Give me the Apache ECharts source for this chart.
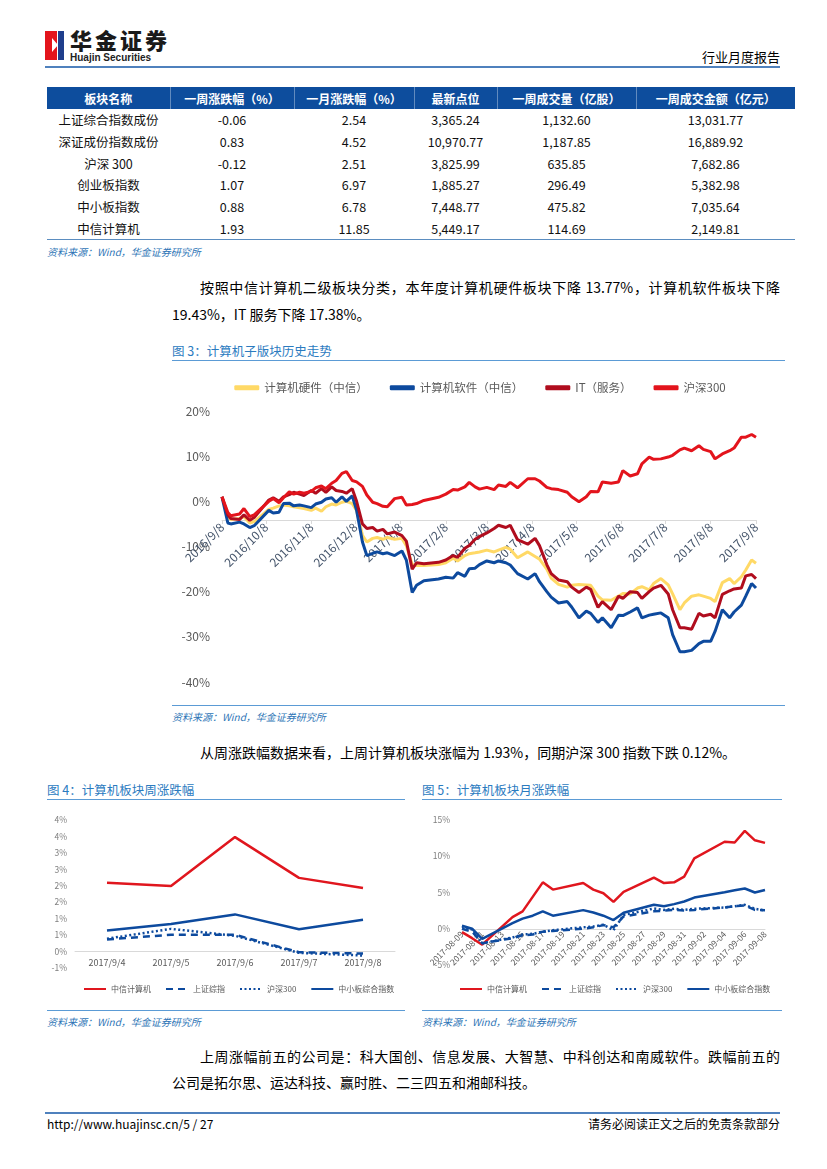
<!DOCTYPE html>
<html>
<head>
<meta charset="utf-8">
<script src="https://cdn.jsdelivr.net/npm/echarts@6.0.0/dist/echarts.min.js"></script>
<style>
  html,body{margin:0;padding:0;background:#fff;}
  body{width:827px;height:1169px;position:relative;overflow:hidden;font-family:"Noto Sans CJK SC","Noto Sans",sans-serif;color:#000;}
  .abs{position:absolute;white-space:nowrap;}
  .rule{position:absolute;height:1px;background:#5B9BD5;}
  .src{position:absolute;font-size:10px;font-style:italic;color:#2E75B6;white-space:nowrap;line-height:12px;}
  .ftitle{position:absolute;font-size:12.5px;color:#2B7BBF;white-space:nowrap;line-height:16px;}
  .para{position:absolute;font-size:14px;line-height:18px;white-space:nowrap;}
  table{border-collapse:collapse;table-layout:fixed;}
  td,th{padding:0;text-align:center;white-space:nowrap;}
  th{background:#0D4D9D;color:#fff;font-size:12px;font-weight:bold;height:22px;border-left:1px solid rgba(255,255,255,0.35);}
  th:first-child{border-left:none;}
  td{font-size:12.5px;height:21.8px;line-height:21.8px;color:#111;}
</style>
</head>
<body>
<!-- header -->
<div class="abs" style="left:45px;top:31px;width:13px;height:29px;background:#E3141C;"></div>
<div class="abs" style="left:58px;top:31px;width:6px;height:29px;background:#1F3E8C;"></div>
<div class="abs" style="left:52px;top:38px;width:0;height:0;border-top:7px solid transparent;border-bottom:7px solid transparent;border-left:6px solid #fff;"></div>
<div class="abs" style="left:57px;top:31px;width:1px;height:29px;background:#fff;"></div>
<div class="abs" style="left:70px;top:26px;font-size:22px;font-weight:900;letter-spacing:3px;color:#1a1a1a;line-height:26px;">华金证券</div>
<div class="abs" style="left:70px;top:52px;font-size:10px;font-weight:bold;color:#222;font-family:'Liberation Sans',sans-serif;line-height:11px;">Huajin Securities</div>
<div class="abs" style="right:47px;top:48px;font-size:13px;line-height:18px;">行业月度报告</div>
<div class="abs" style="left:45px;top:66px;width:735px;height:2px;background:#4F81BD;"></div>

<!-- table -->
<div id="tbl" class="abs" style="left:47px;top:87px;"></div>
<div class="abs" style="left:47px;top:239px;width:748px;height:1px;background:#5B8DC0;"></div>
<div class="src" style="left:47px;top:246px;">资料来源：Wind，华金证券研究所</div>

<div class="para" style="left:200px;top:278px;width:580px;text-align:justify;text-align-last:justify;">按照中信计算机二级板块分类，本年度计算机硬件板块下降 13.77%，计算机软件板块下降</div>
<div class="para" style="left:172px;top:305px;">19.43%，IT 服务下降 17.38%。</div>

<div class="ftitle" style="left:172px;top:343px;">图 3：计算机子版块历史走势</div>
<div class="rule" style="left:172px;top:360px;width:613px;"></div>
<div id="c3" class="abs" style="left:170px;top:368px;width:620px;height:337px;"></div>
<div class="rule" style="left:172px;top:705px;width:613px;"></div>
<div class="src" style="left:172px;top:711px;">资料来源：Wind，华金证券研究所</div>

<div class="para" style="left:200px;top:743px;">从周涨跌幅数据来看，上周计算机板块涨幅为 1.93%，同期沪深 300 指数下跌 0.12%。</div>

<div class="ftitle" style="left:47px;top:782px;">图 4：计算机板块周涨跌幅</div>
<div class="rule" style="left:47px;top:799px;width:358px;"></div>
<div id="c4" class="abs" style="left:40px;top:800px;width:370px;height:205px;"></div>
<div class="rule" style="left:47px;top:1010px;width:358px;"></div>
<div class="src" style="left:47px;top:1016px;">资料来源：Wind，华金证券研究所</div>

<div class="ftitle" style="left:422px;top:782px;">图 5：计算机板块月涨跌幅</div>
<div class="rule" style="left:422px;top:799px;width:360px;"></div>
<div id="c5" class="abs" style="left:415px;top:800px;width:380px;height:205px;"></div>
<div class="rule" style="left:422px;top:1010px;width:360px;"></div>
<div class="src" style="left:422px;top:1016px;">资料来源：Wind，华金证券研究所</div>

<div class="para" style="left:200px;top:1047px;width:580px;text-align:justify;text-align-last:justify;">上周涨幅前五的公司是：科大国创、信息发展、大智慧、中科创达和南威软件。跌幅前五的</div>
<div class="para" style="left:172px;top:1073px;">公司是拓尔思、运达科技、赢时胜、二三四五和湘邮科技。</div>

<div class="abs" style="left:45px;top:1112px;width:735px;height:2px;background:#4F81BD;"></div>
<div class="abs" style="left:47px;top:1116px;font-size:12px;line-height:16px;">http://www.huajinsc.cn/5 / 27</div>
<div class="abs" style="right:47px;top:1116px;font-size:12px;line-height:16px;">请务必阅读正文之后的免责条款部分</div>

<script>
// ---------- table data ----------
const tableHeaders = ['板块名称','一周涨跌幅（%）','一月涨跌幅（%）','最新点位','一周成交量（亿股）','一周成交金额（亿元）'];
const tableNames = ['上证综合指数成份','深证成份指数成份','沪深 300','创业板指数','中小板指数','中信计算机'];
const weekChg = ['-0.06','0.83','-0.12','1.07','0.88','1.93'];
const monthChg = ['2.54','4.52','2.51','6.97','6.78','11.85'];
const lastPoint = ['3,365.24','10,970.77','3,825.99','1,885.27','7,448.77','5,449.17'];
const weekVol = ['1,132.60','1,187.85','635.85','296.49','475.82','114.69'];
const weekAmt = ['13,031.77','16,889.92','7,682.86','5,382.98','7,035.64','2,149.81'];

// ---------- figure 3 data ----------
const legend3 = ['计算机硬件（中信）','计算机软件（中信）','IT（服务）','沪深300'];
const ticks3 = ['2016/9/8','2016/10/8','2016/11/8','2016/12/8','2017/1/8','2017/2/8','2017/3/8','2017/4/8','2017/5/8','2017/6/8','2017/7/8','2017/8/8','2017/9/8'];
const dates3 = ['2016-09-08','2016-09-12','2016-09-14','2016-09-20','2016-09-23','2016-09-27','2016-09-30',
'2016-10-10','2016-10-13','2016-10-17','2016-10-20','2016-10-24','2016-10-27','2016-10-31',
'2016-11-03','2016-11-08','2016-11-11','2016-11-15','2016-11-18','2016-11-22','2016-11-25','2016-11-29',
'2016-12-02','2016-12-06','2016-12-09','2016-12-13','2016-12-16','2016-12-20','2016-12-23','2016-12-27','2016-12-30',
'2017-01-04','2017-01-09','2017-01-12','2017-01-16','2017-01-19','2017-01-24',
'2017-02-03','2017-02-08','2017-02-13','2017-02-16','2017-02-21','2017-02-24','2017-02-28',
'2017-03-03','2017-03-08','2017-03-13','2017-03-16','2017-03-21','2017-03-24','2017-03-29',
'2017-04-05','2017-04-10','2017-04-13','2017-04-18','2017-04-21','2017-04-26',
'2017-05-02','2017-05-05','2017-05-10','2017-05-15','2017-05-18','2017-05-23','2017-05-26',
'2017-06-01','2017-06-06','2017-06-09','2017-06-14','2017-06-19','2017-06-22','2017-06-27','2017-06-30',
'2017-07-05','2017-07-10','2017-07-13','2017-07-18','2017-07-21','2017-07-26','2017-07-31',
'2017-08-03','2017-08-08','2017-08-11','2017-08-16','2017-08-21','2017-08-24','2017-08-29',
'2017-09-01','2017-09-05','2017-09-08'];
const hardware = [1.0,-3.5,-4.0,-3.8,-3.4,-4.8,-4.5,
-1.8,-1.5,-1.0,-0.8,-1.0,-1.2,-1.4,
-1.6,-2.0,-1.5,-2.2,-1.2,-0.6,-0.8,-0.2,
0.0,-0.5,-2.0,-7.5,-9.0,-8.2,-8.0,-8.4,-8.0,
-8.4,-8.2,-9.8,-14.0,-14.2,-14.2,
-14.0,-13.6,-12.6,-13.2,-12.0,-11.6,-11.4,
-11.2,-10.8,-11.2,-10.8,-10.2,-10.6,-12.5,
-11.2,-12.2,-12.8,-15.0,-17.0,-18.4,
-19.0,-18.6,-18.4,-18.5,-18.6,-21.0,-21.8,
-21.9,-21.0,-20.4,-20.5,-19.2,-18.9,-19.6,-18.2,
-17.1,-18.5,-20.5,-24.0,-22.5,-21.0,-20.7,
-21.0,-21.5,-22.2,-18.0,-17.1,-18.2,-16.7,
-15.2,-13.0,-13.7];
const software = [1.0,-4.8,-5.0,-4.6,-5.0,-5.8,-5.4,
-2.0,-2.6,-2.4,-0.5,-0.4,-1.0,-0.8,
-1.0,-1.4,-0.6,-0.2,0.5,0.8,-0.2,1.0,
0.0,1.2,-2.0,-9.0,-12.0,-11.5,-11.2,-11.6,-11.4,
-12.0,-11.0,-13.0,-20.2,-18.6,-17.6,
-17.2,-16.8,-17.0,-15.8,-16.6,-14.9,-14.8,
-14.0,-13.2,-13.6,-13.2,-13.6,-14.1,-16.0,
-17.2,-16.0,-17.8,-20.0,-21.2,-22.5,
-22.2,-23.4,-25.8,-24.3,-24.8,-26.8,-25.8,
-28.0,-25.2,-25.3,-24.5,-23.6,-25.8,-25.2,-25.0,
-24.7,-25.8,-29.5,-33.3,-33.3,-33.0,-31.5,
-31.0,-31.0,-28.8,-24.0,-25.8,-24.5,-23.0,
-21.0,-18.2,-19.2];
const itService = [1.0,-3.0,-3.8,-4.0,-3.0,-4.2,-3.6,
0.3,0.8,0.0,1.0,1.5,2.0,1.6,
1.3,2.4,1.8,2.8,2.0,3.2,2.4,2.2,
1.8,2.8,0.0,-5.0,-6.0,-5.8,-6.6,-6.2,-7.2,
-6.8,-7.6,-8.8,-15.0,-13.6,-13.8,
-13.5,-13.0,-12.0,-12.4,-10.4,-9.8,-8.4,
-7.8,-7.0,-6.0,-5.3,-5.8,-5.3,-8.5,
-9.5,-8.2,-9.8,-14.0,-16.0,-17.4,
-17.8,-19.0,-20.2,-19.0,-19.5,-23.5,-22.2,
-24.0,-21.0,-21.5,-20.0,-20.2,-21.5,-20.0,-19.2,
-18.6,-20.5,-24.0,-28.0,-28.0,-28.3,-24.8,
-25.4,-25.0,-25.8,-20.6,-19.8,-19.4,-19.2,
-16.5,-16.2,-17.1];
const hs300 = [1.0,-2.5,-3.2,-2.8,-1.6,-3.4,-3.0,
0.0,0.6,-0.3,0.8,2.1,1.6,2.0,
1.8,2.2,3.0,3.4,2.8,4.0,4.6,6.2,
6.6,4.6,4.3,3.3,1.4,-0.2,-0.5,-1.1,-1.2,
0.6,0.9,-0.8,-0.7,-0.5,0.2,
0.9,1.6,2.6,2.5,3.2,4.2,3.2,
2.7,3.1,2.6,3.6,3.3,4.2,3.0,
5.0,5.0,4.5,3.1,2.8,2.6,
2.0,1.0,-0.1,1.0,2.2,2.1,4.3,
4.0,4.3,6.8,5.6,6.1,8.3,9.8,9.3,
9.4,9.8,10.2,11.4,11.8,11.2,12.3,
11.5,11.0,9.4,10.5,11.2,11.8,14.2,
14.2,14.8,14.2];

// ---------- figure 4 data ----------
const legend45 = ['中信计算机','上证综指','沪深300','中小板综合指数'];
const days4 = ['2017/9/4','2017/9/5','2017/9/6','2017/9/7','2017/9/8'];
const citicWeek = [2.09,1.99,3.48,2.24,1.93];
const sseWeek = [0.37,0.51,0.51,-0.02,-0.06];
const hs300Week = [0.39,0.69,0.48,-0.04,-0.12];
const smeWeek = [0.64,0.84,1.13,0.68,0.97];

// ---------- figure 5 data ----------
const ticks5 = ['2017-08-09','2017-08-11','2017-08-13','2017-08-15','2017-08-17','2017-08-19','2017-08-21','2017-08-23','2017-08-25','2017-08-27','2017-08-29','2017-08-31','2017-09-02','2017-09-04','2017-09-06','2017-09-08'];
const days5 = ['2017-08-09','2017-08-10','2017-08-11','2017-08-14','2017-08-15','2017-08-16','2017-08-17','2017-08-18','2017-08-21','2017-08-22','2017-08-23','2017-08-24','2017-08-25','2017-08-28','2017-08-29','2017-08-30','2017-08-31','2017-09-01','2017-09-04','2017-09-05','2017-09-06','2017-09-07','2017-09-08'];
const citicMonth = [-0.46,-1.3,-2.2,1.6,2.4,4.4,6.4,5.4,6.3,5.4,4.9,3.7,5.1,7.05,6.3,6.4,7.2,9.7,12.0,11.9,13.5,12.2,11.85];
const sseMonth = [0.0,-0.4,-2.0,-1.3,-0.9,-0.8,-0.4,-0.3,0.0,0.2,0.5,0.2,1.7,2.4,2.5,2.6,2.5,2.6,2.93,3.1,3.2,2.6,2.54];
const hs300Month = [0.3,-0.1,-2.0,-1.2,-0.8,-0.7,-0.4,-0.2,0.2,0.3,0.55,-0.2,1.9,2.8,2.6,2.75,2.6,2.75,2.93,3.1,3.3,2.75,2.51];
const smeMonth = [0.41,0.0,-1.4,0.77,1.4,1.8,2.4,1.8,2.57,2.25,1.8,1.2,2.2,3.3,3.1,3.4,3.76,4.3,5.04,5.3,5.55,5.0,5.35];

// ---------- build table ----------
(function(){
  const widths=[123,124,120,83,139,159];
  let h='<table style="width:748px;"><colgroup>'+widths.map(w=>'<col style="width:'+w+'px">').join('')+'</colgroup><tr>';
  h+=tableHeaders.map(t=>'<th>'+t+'</th>').join('')+'</tr>';
  for(let i=0;i<tableNames.length;i++){
    h+='<tr><td>'+tableNames[i]+'</td><td>'+weekChg[i]+'</td><td>'+monthChg[i]+'</td><td>'+lastPoint[i]+'</td><td>'+weekVol[i]+'</td><td>'+weekAmt[i]+'</td></tr>';
  }
  h+='</table>';
  document.getElementById('tbl').innerHTML=h;
})();

// ---------- helpers ----------
const FONT = '"Noto Sans CJK SC","Noto Sans",sans-serif';
const DAY = 86400000;
function dayNum(s){const p=s.split(/[\/-]/);return Math.round(Date.UTC(+p[0],+p[1]-1,+p[2])/DAY);}
function pad(n){return n<10?'0'+n:''+n;}
function fmtSlash(v){const d=new Date(Math.round(v)*DAY);return d.getUTCFullYear()+'/'+(d.getUTCMonth()+1)+'/'+d.getUTCDate();}
function fmtDash(v){const d=new Date(Math.round(v)*DAY);return d.getUTCFullYear()+'-'+pad(d.getUTCMonth()+1)+'-'+pad(d.getUTCDate());}
function pairs(dates,vals){return dates.map((d,i)=>[dayNum(d),vals[i]]);}
// put the x axis (line + labels) on the y = 0 level, as in the reference
function xAxisToZero(chart, yMin){
  const z = chart.convertToPixel({yAxisIndex:0}, 0);
  const b = chart.convertToPixel({yAxisIndex:0}, yMin);
  chart.setOption({xAxis:{offset: z - b}});
}

// ---------- figure 3 ----------
const c3 = echarts.init(document.getElementById('c3'));
const tv3 = ticks3.map(dayNum);
const col3 = ['#FFD966','#0D4A9E','#B00D1E','#E3141C'];
const vals3 = [hardware, software, itService, hs300];
c3.setOption({
  animation:false,
  textStyle:{fontFamily:FONT},
  legend:{top:9,left:'center',itemWidth:25,itemHeight:5,itemGap:22,icon:'roundRect',
    textStyle:{fontSize:11.5,color:'#595959',fontFamily:FONT},data:legend3},
  grid:{left:52,right:34,top:43,bottom:23},
  xAxis:{type:'value',min:tv3[0],max:tv3[tv3.length-1],scale:true,
    axisLine:{onZero:false,lineStyle:{color:'#D9D9D9',width:1}},
    axisTick:{show:true,customValues:tv3,length:4,lineStyle:{color:'#D9D9D9'}},
    axisLabel:{customValues:tv3,rotate:45,formatter:fmtSlash,color:'#44546A',fontSize:12,margin:5,fontFamily:FONT,showMinLabel:true,showMaxLabel:true},
    splitLine:{show:false}},
  yAxis:{type:'value',min:-40,max:20,interval:10,
    axisLine:{show:false,onZero:false},axisTick:{show:false},splitLine:{show:false},
    axisLabel:{formatter:'{value}%',color:'#595959',fontSize:12,margin:12,fontFamily:FONT}},
  series: legend3.map((n,i)=>({name:n,type:'line',data:pairs(dates3,vals3[i]),symbol:'none',
    lineStyle:{width:3,color:col3[i]},itemStyle:{color:col3[i]}}))
});
xAxisToZero(c3, -40);

// ---------- figure 4 ----------
const c4 = echarts.init(document.getElementById('c4'));
const RED='#E0161E', BLUE='#0D4A9E';
function roundPct(v){const r=Math.round(Math.abs(v));return (v<0?'-':'')+r+'%';}
function legendCfg(left){return {top:180,left:left,itemWidth:22,itemHeight:8,itemGap:14,
  itemStyle:{opacity:0},
  textStyle:{fontSize:8,color:'#595959',fontFamily:FONT},data:legend45};}
function seriesSet(dates,a,b,c,d,numeric){
  const mk=(v)=>numeric?pairs(dates,v):v;
  return [
    {name:legend45[0],type:'line',data:mk(a),symbol:'none',lineStyle:{width:2.5,color:RED},itemStyle:{color:RED}},
    {name:legend45[1],type:'line',data:mk(b),symbol:'none',lineStyle:{width:2.5,color:BLUE,type:[7,5]},itemStyle:{color:BLUE}},
    {name:legend45[2],type:'line',data:mk(c),symbol:'none',lineStyle:{width:2.5,color:BLUE,type:[2,2.5]},itemStyle:{color:BLUE}},
    {name:legend45[3],type:'line',data:mk(d),symbol:'none',lineStyle:{width:2.5,color:BLUE},itemStyle:{color:BLUE}}
  ];
}
c4.setOption({
  animation:false,
  textStyle:{fontFamily:FONT},
  legend:legendCfg(38),
  grid:{left:35,right:15,top:20,bottom:37},
  xAxis:{type:'category',data:days4,boundaryGap:true,
    axisLine:{onZero:false,lineStyle:{color:'#D9D9D9'}},axisTick:{show:false},
    axisLabel:{color:'#595959',fontSize:9,margin:7,fontFamily:FONT}},
  yAxis:{type:'value',min:-0.5,max:4,interval:0.5,
    axisLine:{show:false,onZero:false},axisTick:{show:false},splitLine:{show:false},
    axisLabel:{formatter:roundPct,color:'#7F7F7F',fontSize:8.5,margin:8,fontFamily:FONT}},
  series:seriesSet(days4,citicWeek,sseWeek,hs300Week,smeWeek,false)
});
xAxisToZero(c4, -0.5);

// ---------- figure 5 ----------
const c5 = echarts.init(document.getElementById('c5'));
const tv5 = ticks5.map(dayNum);
c5.setOption({
  animation:false,
  textStyle:{fontFamily:FONT},
  legend:legendCfg(39),
  grid:{left:47,right:30,top:20,bottom:40},
  xAxis:{type:'value',min:tv5[0],max:tv5[tv5.length-1],scale:true,
    axisLine:{onZero:false,lineStyle:{color:'#D9D9D9'}},
    axisTick:{show:false,customValues:tv5},
    axisLabel:{customValues:tv5,rotate:45,formatter:fmtDash,color:'#595959',fontSize:8.5,margin:4,fontFamily:FONT,showMinLabel:true,showMaxLabel:true},
    splitLine:{show:false}},
  yAxis:{type:'value',min:-5,max:15,interval:5,
    axisLine:{show:false,onZero:false},axisTick:{show:false},splitLine:{show:false},
    axisLabel:{formatter:'{value}%',color:'#7F7F7F',fontSize:8.5,margin:12,fontFamily:FONT}},
  series:seriesSet(days5,citicMonth,sseMonth,hs300Month,smeMonth,true)
});
xAxisToZero(c5, -5);
</script>
</body>
</html>
